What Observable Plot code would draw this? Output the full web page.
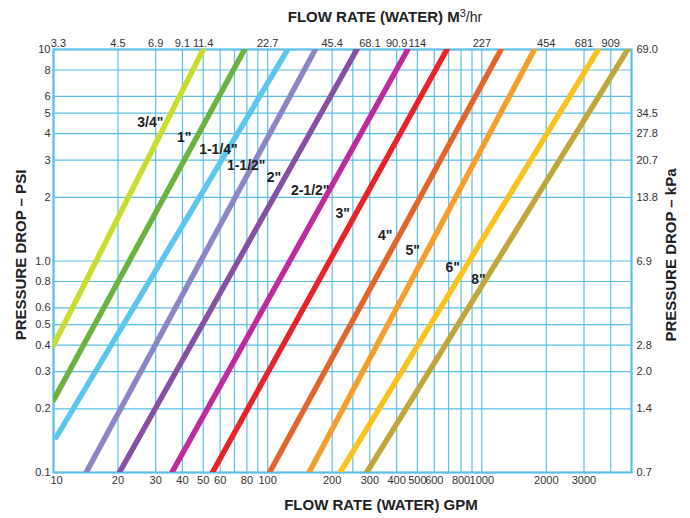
<!DOCTYPE html>
<html><head><meta charset="utf-8">
<script src="https://cdn.jsdelivr.net/npm/d3@7"></script>
<script src="https://cdn.jsdelivr.net/npm/@observablehq/plot@0.6"></script>
<style>body{margin:0;background:#fff;}</style>
</head><body><div id="chart"></div>
<script>
// Pipe sizes and their pressure-drop lines (GPM vs PSI)
const sizes = ['3/4"', '1"', '1-1/4"', '1-1/2"', '2"', '2-1/2"', '3"', '4"', '5"', '6"', '8"'];
const startGpm = [10, 10, 10.3, 14.2, 20.3, 35.7, 55.2, 102, 156, 218, 290];
const startPsi = [0.4, 0.22, 0.147, 0.1, 0.1, 0.1, 0.1, 0.1, 0.1, 0.1, 0.1];
const endGpm = [50, 78, 124, 167, 261, 451, 687, 1230, 1760, 3500, 4800];
const endPsi = [10, 10, 10, 10, 10, 10, 10, 10, 10, 10, 10];
const colors = ["#c8dc2c", "#6cb23e", "#5cc6ef", "#8d86c6", "#8650a3", "#bf2a9c", "#e8232a", "#e2662b", "#f39f2a", "#f9c21c", "#c1a63b"];
// label anchors (GPM, PSI)
const labelGpm = [28.3, 40.8, 58.9, 79.4, 107, 158, 224, 354, 476, 732, 964];
const labelPsi = [4.52, 3.82, 3.38, 2.82, 2.47, 2.16, 1.68, 1.32, 1.12, 0.93, 0.817];

// Axes
const gpmTicks = [10, 20, 30, 40, 50, 60, 80, 100, 200, 300, 400, 500, 600, 800, 1000, 2000, 3000];
const m3Ticks = [10, 20, 30, 40, 50, 100, 200, 300, 400, 500, 1000, 2000, 3000, 4000];
const m3Labels = ["3.3", "4.5", "6.9", "9.1", "11.4", "22.7", "45.4", "68.1", "90.9", "114", "227", "454", "681", "909"];
const psiTicks = [0.1, 0.2, 0.3, 0.4, 0.5, 0.6, 0.8, 1, 2, 3, 4, 5, 6, 8, 10];
const psiLabels = ["0.1", "0.2", "0.3", "0.4", "0.5", "0.6", "0.8", "1.0", "2", "3", "4", "5", "6", "8", "10"];
const kpaTicks = [0.1, 0.2, 0.3, 0.4, 1, 2, 3, 4, 5, 10];
const kpaLabels = ["0.7", "1.4", "2.0", "2.8", "6.9", "13.8", "20.7", "27.8", "34.5", "69.0"];
const gridGpm = [10, 20, 30, 40, 50, 60, 70, 80, 90, 100, 200, 250, 300, 400, 500, 600, 700, 800, 900, 1000, 2000, 3000, 4000];
const gridPsi = [0.1, 0.2, 0.3, 0.4, 0.5, 0.6, 0.8, 1, 2, 3, 4, 5, 6, 8, 10];

const segs = sizes.map((s, i) => ({size: s, x1: startGpm[i], y1: startPsi[i], x2: endGpm[i], y2: endPsi[i], color: colors[i]}));
const labs = sizes.map((s, i) => ({size: s, x: labelGpm[i], y: labelPsi[i]}));
const bottomT = gpmTicks.map((d, i) => ({v: d, t: String(d), first: i === 0}));
const topT = m3Ticks.map((d, i) => ({v: d, t: m3Labels[i], first: i === 0}));
const leftT = psiTicks.map((d, i) => ({v: d, t: psiLabels[i]}));
const rightT = kpaTicks.map((d, i) => ({v: d, t: kpaLabels[i]}));
const gridColor = "#5cbfe8";
const ink = "#333";

const chart = Plot.plot({
  width: 690, height: 518,
  marginLeft: 53, marginRight: 59, marginTop: 49, marginBottom: 46,
  style: {fontFamily: "'Liberation Sans', Arial, sans-serif", fontSize: "11px", color: ink, background: "#fff"},
  x: {type: "log", domain: [10, 5000], axis: null},
  y: {type: "log", domain: [0.1, 10], axis: null},
  marks: [
    Plot.ruleX(gridGpm, {stroke: gridColor, strokeWidth: 1.2}),
    Plot.ruleY(gridPsi, {stroke: gridColor, strokeWidth: 1.2}),
    Plot.frame({stroke: gridColor, strokeWidth: 2.2}),
    Plot.link(segs, {x1: "x1", y1: "y1", x2: "x2", y2: "y2", stroke: "color", strokeWidth: 5.5, strokeLinecap: "round", clip: true}),
    Plot.text(labs, {x: "x", y: "y", text: "size", fontWeight: "bold", fontSize: 14, fill: "#222"}),
    // bottom GPM tick labels
    Plot.text(bottomT.filter(d => d.first), {x: "v", text: "t", frameAnchor: "bottom", lineAnchor: "top", dy: 4, dx: 3, fill: ink}),
    Plot.text(bottomT.filter(d => !d.first), {x: "v", text: "t", frameAnchor: "bottom", lineAnchor: "top", dy: 4, fill: ink}),
    // top m3/hr tick labels
    Plot.text(topT.filter(d => d.first), {x: "v", text: "t", frameAnchor: "top", lineAnchor: "bottom", dy: -3, dx: 5, fill: ink}),
    Plot.text(topT.filter(d => !d.first), {x: "v", text: "t", frameAnchor: "top", lineAnchor: "bottom", dy: -3, fill: ink}),
    // left psi tick labels
    Plot.text(leftT, {y: "v", text: "t", frameAnchor: "left", textAnchor: "end", dx: -3, fill: ink}),
    // right kPa tick labels
    Plot.text(rightT, {y: "v", text: "t", frameAnchor: "right", textAnchor: "start", dx: 5, fill: ink})
  ]
});
document.getElementById("chart").append(chart);

const svg = d3.select(chart);
const tf = "'Liberation Sans', Arial, sans-serif";
const topTitle = svg.append("text").attr("x", 385).attr("y", 22).attr("text-anchor", "middle")
  .attr("font-family", tf).attr("font-size", 15).attr("fill", "#222");
topTitle.append("tspan").attr("font-weight", "bold").text("FLOW RATE (WATER) M");
topTitle.append("tspan").attr("font-size", 11).attr("dy", -5).text("3");
topTitle.append("tspan").attr("dy", 5).attr("font-size", 14).text("/hr");
svg.append("text").attr("x", 381).attr("y", 510).attr("text-anchor", "middle")
  .attr("font-family", tf).attr("font-size", 15).attr("font-weight", "bold").attr("fill", "#222")
  .text("FLOW RATE (WATER) GPM");
svg.append("text").attr("transform", "translate(26,255) rotate(-90)").attr("text-anchor", "middle")
  .attr("font-family", tf).attr("font-size", 15).attr("font-weight", "bold").attr("fill", "#222")
  .text("PRESSURE DROP – PSI");
svg.append("text").attr("transform", "translate(676,255) rotate(-90)").attr("text-anchor", "middle")
  .attr("font-family", tf).attr("font-size", 15).attr("font-weight", "bold").attr("fill", "#222")
  .text("PRESSURE DROP – kPa");
</script></body></html>
